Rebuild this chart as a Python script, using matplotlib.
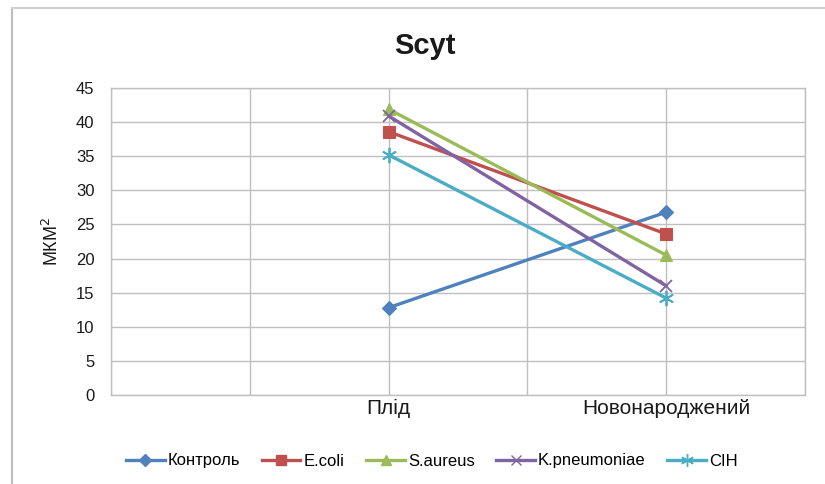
import matplotlib
matplotlib.use("Agg")
import matplotlib.pyplot as plt
from matplotlib.lines import Line2D

plt.rcParams['font.family'] = ['Liberation Sans', 'DejaVu Sans']

# Category slots along the x axis (only two carry data)
categories = ["", "", "Плід", "", "Новонароджений", ""]
data_positions = [2, 4]

series_names = ["Контроль", "E.coli", "S.aureus", "K.pneumoniae", "СІН"]
control = [12.8, 26.8]
e_coli = [38.6, 23.6]
s_aureus = [41.9, 20.5]
k_pneumoniae = [40.9, 16.0]
cih = [35.2, 14.2]
series_values = [control, e_coli, s_aureus, k_pneumoniae, cih]

colors = ["#4F81BD", "#C0504D", "#9BBB59", "#8064A2", "#4BACC6"]
markers = ["D", "s", "^", "x", (6, 2, 0)]
marker_sizes = [7, 9, 9, 9, 11]

y_ticks = list(range(0, 50, 5))

W, H, DPI = 825, 484, 100
fig = plt.figure(figsize=(W / DPI, H / DPI), dpi=DPI)

# plot area in pixels
left, right, top, bottom = 111, 805, 88, 395
ax = fig.add_axes([left / W, 1 - bottom / H, (right - left) / W, (bottom - top) / H])

grid_color = "#BFBFBF"
for i, (name, vals, c, m, ms) in enumerate(zip(series_names, series_values, colors, markers, marker_sizes)):
    ax.plot(data_positions, vals, color=c, lw=2.4, marker=m, markersize=ms,
            markeredgewidth=1.3 if m in ("x",) or isinstance(m, tuple) else 0.8,
            markeredgecolor=c, markerfacecolor=c, label=name, zorder=3 + i,
            solid_capstyle="round")

ax.set_xlim(0, len(categories) - 1)
ax.set_ylim(0, 45)
ax.set_yticks(y_ticks)
ax.set_xticks(range(len(categories)))
ax.set_xticklabels(categories, fontsize=15, color="#1a1a1a")
ax.tick_params(axis="y", labelsize=12, length=0, pad=12, colors="#1a1a1a")
ax.tick_params(axis="x", length=0, pad=3)
ax.grid(True, color=grid_color, lw=1.0)
ax.set_axisbelow(True)
for s in ax.spines.values():
    s.set_color(grid_color)
    s.set_linewidth(1.0)

ax.set_ylabel("МКМ$^2$", fontsize=13, labelpad=10, color="#1a1a1a")

fig.text(425 / W, 1 - 46 / H, "Scyt", ha="center", va="center",
         fontsize=21, fontweight="bold", color="#1a1a1a")

# legend along the bottom
handles = [Line2D([0], [0], color=c, lw=2.4, marker=m, markersize=ms * 0.85,
                  markeredgecolor=c, markerfacecolor=c, markeredgewidth=1.0)
           for c, m, ms in zip(colors, markers, marker_sizes)]
fig.legend(handles, series_names, loc="center", bbox_to_anchor=(432 / W, 1 - 461 / H),
           ncol=5, frameon=False, fontsize=12, handlelength=2.3, handletextpad=0.2,
           columnspacing=1.3)

# chart area border (left and top edges)
fig.add_artist(Line2D([12 / W, 12 / W], [0, 1 - 8 / H], transform=fig.transFigure,
                      color="#BDBDBD", lw=1.5))
fig.add_artist(Line2D([12 / W, 1], [1 - 8 / H, 1 - 8 / H], transform=fig.transFigure,
                      color="#D0D0D0", lw=1.5))

fig.savefig("out.png", dpi=DPI)
